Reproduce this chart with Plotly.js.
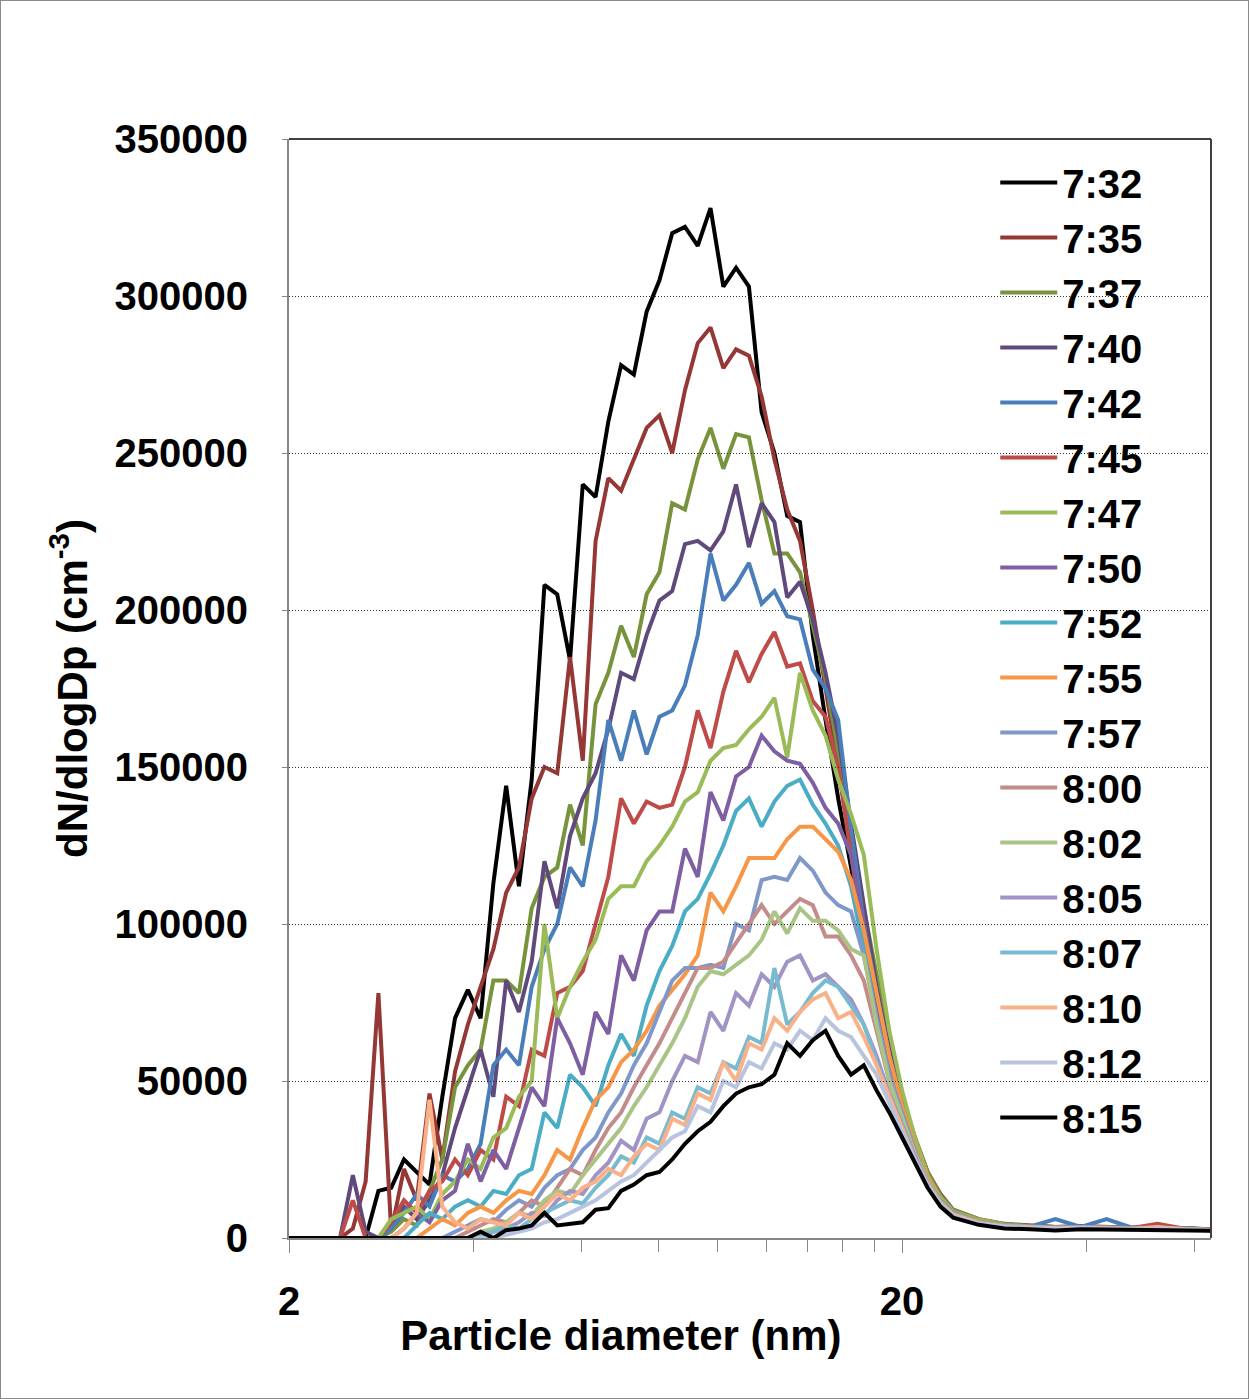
<!DOCTYPE html>
<html><head><meta charset="utf-8">
<script src="https://cdn.plot.ly/plotly-3.0.1.min.js"></script>
<style>
html,body{margin:0;padding:0;background:#fff;}
#frame{width:1249px;height:1399px;box-sizing:border-box;border:1px solid #8a8a8a;}
#chart{width:1247px;height:1397px;}
</style>
</head><body><div id="frame"><div id="chart"></div></div>
<script>
// Particle diameter (nm) of each size channel
const diameter = [2.000, 2.098, 2.201, 2.310, 2.423, 2.542, 2.667, 2.798, 2.936, 3.080,
  3.231, 3.390, 3.557, 3.731, 3.915, 4.107, 4.309, 4.521, 4.743, 4.976,
  5.220, 5.477, 5.746, 6.028, 6.325, 6.635, 6.961, 7.303, 7.662, 8.039,
  8.434, 8.848, 9.283, 9.739, 10.22, 10.72, 11.25, 11.80, 12.38, 12.99,
  13.63, 14.30, 15.00, 15.73, 16.51, 17.32, 18.17, 19.06, 20.00, 20.98,
  22.01, 23.10, 24.23, 26.67, 29.36, 32.31, 35.57, 39.15, 43.09, 47.43,
  52.20, 57.46, 63.80];

const times = ['7:32','7:35','7:37','7:40','7:42','7:45','7:47','7:50','7:52',
  '7:55','7:57','8:00','8:02','8:05','8:07','8:10','8:12','8:15'];

// dN/dlogDp (cm^-3)
const s0732 = [0,0,0,0,0,0,0, 15000,16000,25000,21000,17000,45000, 70000,79000,70000,113000,144000,112000,
  146000,208000,205000,184000,240000,236000, 260000,278000,275000,295000,305000,320000,
  322000,316000,328000,303000,309000,303000, 263000,250000,230000,228000,192000,165000,
  140000,118000,96000,72000,52000,38000, 27000,18000,12000,8000,
  5500,4000,3500,3000,3500,3200,3000,3300,3000,2600];
const s0735 = [0,0,0,0,0,3000,18000, 78000,2000,22000,12000,46000,25000, 53000,68000,80000,92000,110000,118000,
  140000,150000,148000,185000,152000,222000, 242000,238000,248000,258000,262000,250000,
  270000,285000,290000,277000,283000,281000, 268000,248000,232000,222000,200000,175000,
  150000,125000,100000,80000,60000,45000, 32000,21000,14000,9000,
  6000,4500,4000,3500,3800,3500,3300,3500,3300,2800];
const s0737 = [0,0,0,0,0,0,0, 0,2000,6000,4000,15000,25000, 48000,55000,60000,82000,82000,78000,
  105000,115000,118000,138000,125000,170000, 180000,195000,185000,205000,212000,234000,
  232000,248000,258000,245000,256000,255000, 235000,218000,218000,212000,195000,178000,
  155000,130000,105000,84000,62000,45000, 32000,21000,13500,9000,
  6000,4500,3800,3500,3600,3400,3200,3400,3100,2700];
const s0740 = [0,0,0,0,0,20000,2000, 0,4000,10000,6000,12000,20000, 35000,48000,60000,45000,82000,72000,
  88000,120000,105000,128000,140000,148000, 162000,180000,178000,192000,203000,206000,
  221000,222000,219000,225000,240000,220000, 234000,228000,204000,209000,197000,180000,
  160000,132000,105000,80000,60000,44000, 30000,20000,13000,8500,
  5500,4200,3800,3500,3600,3400,3300,3400,3100,2700];
const s0742 = [0,0,0,0,0,0,0, 0,3000,8000,14000,10000,20000, 18000,22000,30000,55000,60000,55000,
  80000,92000,100000,118000,112000,133000, 165000,152000,168000,154000,166000,168000,
  176000,192000,218000,203000,208000,215000, 202000,206000,198000,197000,181000,175000,
  165000,130000,100000,78000,58000,42000, 29000,19000,12500,8000,
  5500,4200,3600,6000,3500,6000,3300,3500,3200,2700];
const s0745 = [0,0,0,0,0,12000,0, 0,5000,12000,8000,15000,18000, 25000,20000,28000,25000,45000,42000,
  60000,58000,78000,80000,85000,100000, 115000,140000,132000,139000,137000,138000,
  150000,168000,156000,174000,187000,177000, 186000,193000,182000,183000,171000,166000,
  150000,122000,95000,75000,57000,42000, 29000,19000,12000,8000,
  5000,4000,3500,3300,3400,3300,3200,4500,3000,2600];
const s0747 = [0,0,0,0,0,0,0, 0,6000,8000,10000,6000,14000, 18000,25000,22000,32000,35000,45000,
  50000,100000,70000,80000,88000,95000, 108000,112000,112000,120000,125000,131000,
  139000,142000,152000,156000,157000,162000, 166000,172000,153000,180000,168000,160000,
  146000,135000,122000,92000,66000,47000, 32000,20000,13000,8500,
  5800,4300,3700,3400,3500,3300,3200,3300,3000,2600];
const s0750 = [0,0,0,0,0,0,0, 0,0,3000,8000,5000,12000, 15000,30000,18000,28000,22000,35000,
  48000,42000,70000,62000,52000,72000, 65000,90000,82000,98000,104000,104000,
  124000,115000,142000,133000,147000,150000, 160000,155000,152000,151000,145000,137000,
  132000,122000,100000,75000,55000,40000, 28000,18000,12000,8000,
  5200,4000,3500,3300,3500,3300,3100,3300,3000,2600];
const s0752 = [0,0,0,0,0,0,0, 0,0,0,4000,8000,6000, 10000,12000,10000,15000,14000,20000,
  22000,40000,35000,52000,48000,42000, 55000,65000,58000,74000,85000,93000,
  104000,108000,116000,125000,136000,140000, 131000,139000,144000,146000,138000,132000,
  125000,112000,92000,70000,52000,38000, 27000,18000,12000,8000,
  5000,3900,3500,3200,3400,3200,3000,3200,2900,2500];
const s0755 = [0,0,0,0,0,0,0, 0,0,0,0,3000,6000, 4000,8000,10000,8000,12000,15000,
  14000,20000,28000,25000,35000,44000, 48000,56000,60000,66000,74000,79000,
  84000,90000,110000,104000,112000,121000, 121000,121000,127000,131000,131000,127000,
  123000,114000,98000,78000,58000,42000, 29000,19000,12000,8000,
  5200,4000,3600,3300,3500,3300,3100,3300,3000,2600];
const s0757 = [0,0,0,0,0,0,0, 0,0,0,0,0,0, 2000,4000,6000,5000,9000,12000,
  10000,16000,20000,22000,28000,32000, 40000,46000,55000,62000,72000,82000,
  86000,86000,87000,86000,100000,98000, 114000,115000,114000,121000,117000,110000,
  106000,104000,90000,70000,52000,40000, 28000,18000,12000,8000,
  5000,3900,3400,3200,3400,3200,3000,3200,2900,2500];
const s0800 = [0,0,0,0,0,0,0, 0,0,0,0,0,0, 0,2000,4000,6000,5000,8000,
  12000,10000,16000,22000,20000,28000, 35000,40000,48000,55000,62000,70000,
  78000,86000,86000,88000,94000,100000, 106000,100000,104000,108000,106000,96000,
  96000,90000,82000,66000,50000,38000, 27000,18000,11500,7500,
  5000,3800,3400,3200,3300,3200,3000,3200,2900,2500];
const s0802 = [0,0,0,0,0,0,0, 0,0,0,0,0,0, 0,0,2000,3000,5000,8000,
  7000,12000,15000,14000,20000,25000, 30000,35000,42000,48000,55000,62000,
  70000,80000,85000,84000,87000,90000, 95000,104000,97000,105000,101000,101000,
  98000,92000,90000,68000,50000,38000, 27000,18000,11500,7500,
  4900,3800,3400,3100,3300,3100,3000,3100,2900,2500];
const s0805 = [0,0,0,0,0,0,0, 0,0,0,0,0,0, 0,0,0,2000,3000,5000,
  8000,7000,12000,15000,14000,20000, 24000,31000,28000,38000,40000,50000,
  58000,56000,72000,66000,78000,74000, 84000,80000,88000,90000,82000,84000,
  80000,76000,68000,58000,46000,36000, 26000,17500,11000,7500,
  4800,3700,3300,3100,3300,3100,2900,3100,2800,2500];
const s0807 = [0,0,0,0,0,0,0, 0,0,0,0,0,0, 0,0,1000,2000,4000,3000,
  6000,8000,10000,12000,11000,16000, 20000,26000,24000,32000,30000,40000,
  38000,48000,46000,56000,54000,64000, 62000,86000,68000,72000,78000,82000,
  80000,74000,68000,56000,45000,35000, 25000,17000,11000,7500,
  4900,3800,3300,3100,3300,3100,2900,3100,2800,2500];
const s0810 = [0,0,0,0,0,0,0, 0,0,3000,8000,44000,10000, 5000,3000,6000,5000,4000,8000,
  6000,10000,14000,12000,16000,18000, 22000,20000,26000,30000,28000,38000,
  36000,46000,44000,56000,50000,62000, 60000,70000,66000,72000,76000,78000,
  70000,72000,64000,55000,45000,35000, 25000,17000,11000,7500,
  4800,3700,3300,3100,3300,3100,2900,3500,2800,2500];
const s0812 = [0,0,0,0,0,0,0, 0,0,0,0,0,0, 0,0,0,0,1000,2000,
  3000,5000,6000,8000,10000,12000, 15000,18000,20000,24000,28000,32000,
  34000,42000,40000,50000,48000,56000, 54000,62000,60000,66000,63000,70000,
  66000,64000,58000,52000,43000,34000, 25000,17000,10500,7000,
  4600,3600,3200,3000,3200,3000,2800,3000,2700,2400];
const s0815 = [0,0,0,0,0,0,0, 0,0,0,0,0,0, 0,0,2000,0,2500,3000,
  4000,8000,4000,4500,5000,9000, 9500,15000,17000,20000,21000,25000,
  30000,34000,37000,42000,46000,48000, 49000,52000,62000,58000,63000,66000,
  58000,52000,55000,47000,40000,32000, 24000,16000,10000,6500,
  4200,3000,2800,2400,2800,2700,2500,2700,2500,2300];

const series = [s0732,s0735,s0737,s0740,s0742,s0745,s0747,s0750,s0752,
  s0755,s0757,s0800,s0802,s0805,s0807,s0810,s0812,s0815];
const colors = ['#000000','#953735','#77933C','#604A7B','#4A7EBB','#BE4B48','#9BBB59','#7E5FA2','#4BACC6',
  '#F79646','#7F97C9','#C38C8B','#AAC486','#A194C4','#78BAD0','#F8B189','#B7C3DF','#000000'];

const yTicks = [0,50000,100000,150000,200000,250000,300000,350000];
const xTicks = [2,20];
const xMinor = [4,6,8,10,12,14,16,18,40,60];

const FONT = 'Liberation Sans, Arial, Helvetica, sans-serif';

const traces = times.map((t,k)=>({
  type:'scatter', mode:'lines', name:t, x:diameter, y:series[k],
  line:{color:colors[k], width:4}, xaxis:'x', yaxis:'y'
}));
// empty helper trace so the title-carrying axis is drawn
traces.push({type:'scatter', mode:'lines', x:[], y:[], xaxis:'x2', yaxis:'y',
  showlegend:false, hoverinfo:'skip'});

const layout = {
  width:1247, height:1397,
  margin:{l:288, r:37, t:138, b:160},
  paper_bgcolor:'#ffffff', plot_bgcolor:'rgba(0,0,0,0)',
  font:{family:FONT, color:'#000'},
  showlegend:true,
  legend:{x:0.766, y:0.990, xanchor:'left', yanchor:'top', bgcolor:'rgba(0,0,0,0)',
    font:{family:FONT, size:40, weight:700, color:'#000'}, itemwidth:57, tracegroupgap:0},
  xaxis:{type:'log', range:[Math.log10(2), Math.log10(63.8)], tickmode:'array', tickvals:xTicks,
    ticktext:xTicks.map(String), ticks:'outside', ticklen:13, tickwidth:1, tickcolor:'#868686',
    showline:true, linecolor:'#868686', linewidth:2, showgrid:false, zeroline:false,
    ticklabelstandoff:14,
    tickfont:{family:FONT, size:40, weight:700, color:'#000'},
    minor:{tickmode:'array', tickvals:xMinor, ticks:'outside', ticklen:12, tickwidth:1, tickcolor:'#868686', showgrid:false}},
  xaxis2:{domain:[0,0.72], anchor:'y', range:[0,1], showline:false, showgrid:false, zeroline:false,
    ticks:'', showticklabels:false, fixedrange:true,
    title:{text:'Particle diameter (nm)', standoff:82, font:{family:FONT, size:42, weight:700, color:'#000'}}},
  yaxis:{range:[0,350000], tickmode:'array', tickvals:yTicks, ticktext:yTicks.map(String),
    ticks:'outside', ticklen:5, tickwidth:1, tickcolor:'#868686',
    showline:true, linecolor:'#868686', linewidth:2, zeroline:false,
    showgrid:true, gridcolor:'#303030', gridwidth:1, griddash:'1px,2px',
    ticklabelstandoff:26,
    tickfont:{family:FONT, size:40, weight:700, color:'#000'},
    title:{text:'dN/dlogDp (cm<sup>-3</sup>)', standoff:14, font:{family:FONT, size:42, weight:700, color:'#000'}}},
  shapes:[
    {type:'line', xref:'paper', yref:'paper', x0:0, x1:1, y0:1, y1:1, line:{color:'#404040', width:2}},
    {type:'line', xref:'paper', yref:'paper', x0:1, x1:1, y0:0, y1:1, line:{color:'#404040', width:2}}
  ]
};

Plotly.newPlot('chart', traces, layout, {displayModeBar:false, staticPlot:true});
</script></body></html>
